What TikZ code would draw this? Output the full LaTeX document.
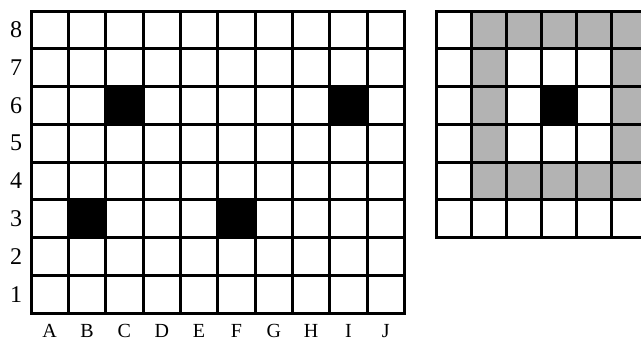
\documentclass[tikz,border=0pt]{standalone}
\usepackage{fontspec}
\setmainfont{Liberation Serif}
\definecolor{cellgray}{RGB}{179,179,179}
\newcommand\rowfont{\fontsize{24pt}{24pt}\selectfont}
\newcommand\colfont{\fontsize{20pt}{20pt}\selectfont}
\tikzset{
  gridline/.style={line width=3pt, line cap=rect},
  darkcell/.style={fill=black},
  graycell/.style={fill=cellgray},
  rowlbl/.style={font=\rowfont, inner sep=0pt},
  collbl/.style={font=\colfont, inner sep=0pt, anchor=base}
}
\begin{document}
\begin{tikzpicture}[x=1pt,y=-1pt]
\useasboundingbox (0,0) rectangle (641,340);
\clip (0,0) rectangle (641,340);
\def\LX{31}\def\LW{37.35}\def\TY{11}\def\RH{37.75}
\def\RX{436}\def\RW{35}
% left grid: black cells
\foreach \c/\r in {2/2,8/2,1/5,5/5}
  \fill[darkcell] (\LX+\c*\LW,\TY+\r*\RH) rectangle ++(\LW,\RH);
\foreach \i in {0,...,10}
  \draw[gridline] (\LX+\i*\LW,\TY) -- ++(0,8*\RH);
\foreach \j in {0,...,8}
  \draw[gridline] (\LX,\TY+\j*\RH) -- ++(10*\LW,0);
% right grid: gray and black cells
\foreach \c/\r in {1/0,2/0,3/0,4/0,5/0,1/1,5/1,1/2,5/2,1/3,5/3,1/4,2/4,3/4,4/4,5/4}
  \fill[graycell] (\RX+\c*\RW,\TY+\r*\RH) rectangle ++(\RW,\RH);
\fill[darkcell] (\RX+3*\RW,\TY+2*\RH) rectangle ++(\RW,\RH);
\foreach \i in {0,...,6}
  \draw[gridline] (\RX+\i*\RW,\TY) -- ++(0,6*\RH);
\foreach \j in {0,...,6}
  \draw[gridline] (\RX,\TY+\j*\RH) -- ++(6*\RW,0);
% labels
\foreach \n [count=\k from 0] in {8,7,6,5,4,3,2,1}
  \node[rowlbl] (row\n) at (16,\TY+\k*\RH+\RH/2) {\n};
\foreach \L [count=\k from 0] in {A,B,C,D,E,F,G,H,I,J}
  \node[collbl] (col\L) at (\LX+\k*\LW+\LW/2,337) {\L};
\end{tikzpicture}
\end{document}
